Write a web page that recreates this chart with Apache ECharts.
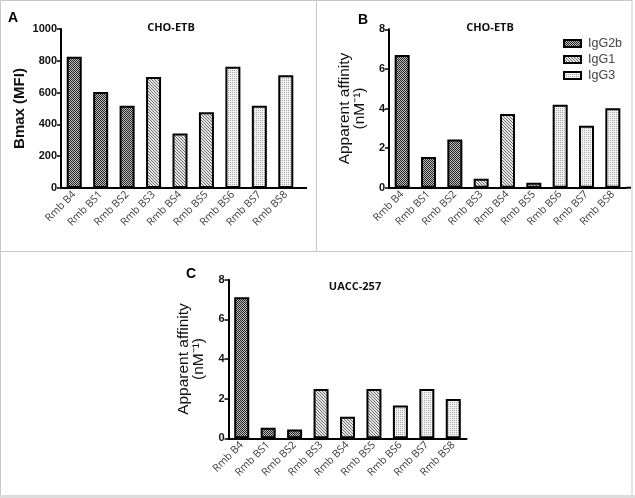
<!DOCTYPE html>
<html>
<head>
<meta charset="utf-8">
<script src="https://cdn.jsdelivr.net/npm/echarts@6/dist/echarts.min.js"></script>
<style>
html,body{margin:0;padding:0;background:#fff;}
#chart{width:635px;height:498px;}
</style>
</head>
<body>
<div id="chart"></div>
<script>
// ---- data ----
const categories = ['Rmb B4','Rmb BS1','Rmb BS2','Rmb BS3','Rmb BS4','Rmb BS5','Rmb BS6','Rmb BS7','Rmb BS8'];
const groupOf = ['IgG2b','IgG2b','IgG2b','IgG1','IgG1','IgG1','IgG3','IgG3','IgG3'];
const groups = ['IgG2b','IgG1','IgG3'];
const bmaxA = [826, 604, 518, 698, 342, 476, 763, 518, 709];
const affinityB = [6.70, 1.55, 2.44, 0.45, 3.72, 0.25, 4.19, 3.13, 4.01];
const affinityC = [7.12, 0.53, 0.45, 2.49, 1.09, 2.49, 1.66, 2.49, 1.98];
const yTicksA = [0, 200, 400, 600, 800, 1000];
const yTicksB = [0, 2, 4, 6, 8];
const yTicksC = [0, 2, 4, 6, 8];
const panelLetters = ['A', 'B', 'C'];
const panelTitles = ['CHO-ETB', 'CHO-ETB', 'UACC-257'];
const yNames = ['Bmax (MFI)', 'Apparent affinity\n(nM\u207B\u00B9)', 'Apparent affinity\n(nM\u207B\u00B9)'];

// ---- patterns ----
function makePattern(kind){
  const c = document.createElement('canvas');
  if(kind==='IgG2b'){
    c.width=2;c.height=2;const x=c.getContext('2d');
    x.fillStyle='#bdbdbd';x.fillRect(0,0,2,2);
    x.fillStyle='#262626';x.fillRect(0,0,1,1);x.fillRect(1,1,1,1);
  } else if(kind==='IgG1'){
    c.width=3;c.height=3;const x=c.getContext('2d');
    x.fillStyle='#e6e6e6';x.fillRect(0,0,3,3);
    x.fillStyle='#6e6e6e';
    for(let i=0;i<3;i++){x.fillRect(i,i,1,1);}
  } else {
    c.width=2;c.height=2;const x=c.getContext('2d');
    x.fillStyle='#f2f2f2';x.fillRect(0,0,2,2);
    x.fillStyle='#a8a8a8';x.fillRect(0,0,1,1);
  }
  return {image:c, repeat:'repeat'};
}
const patterns = {};
groups.forEach(g => patterns[g] = makePattern(g));

// ---- layout ----
const grids = [
  {left:61, top:29, width:238, height:159},
  {left:389, top:29.3, width:237, height:158.4},
  {left:228.5, top:279.7, width:238, height:158.6}
];
const panelValues = [bmaxA, affinityB, affinityC];
const panelTicks = [yTicksA, yTicksB, yTicksC];
const nameGaps = [34, 22, 22];
const nameStyles = [
  {fontSize:15, fontWeight:'bold', fontFamily:'Liberation Sans, Arial', color:'#111'},
  {fontSize:15.5, fontFamily:'Liberation Sans, Arial', color:'#111', lineHeight:15},
  {fontSize:15.5, fontFamily:'Liberation Sans, Arial', color:'#111', lineHeight:15}
];
const titlePos = [{x:166,y:17},{x:485,y:17},{x:350,y:276}];
const letterPos = [{x:3,y:6},{x:353,y:8},{x:181,y:262}];

const xAxes = [], yAxes = [], series = [], titles = [];
for(let p=0;p<3;p++){
  xAxes.push({
    type:'category', gridIndex:p, data:categories,
    axisLine:{lineStyle:{color:'#000', width:2}},
    axisTick:{alignWithLabel:true, length:4, lineStyle:{color:'#000', width:1.5}},
    axisLabel:{rotate:45, margin:5, fontSize:10.5, color:'#3a3a3a', fontFamily:'Open Sans, sans-serif', interval:0}
  });
  const t = panelTicks[p];
  yAxes.push({
    type:'value', gridIndex:p, min:t[0], max:t[t.length-1], interval:t[1]-t[0],
    name:yNames[p], nameLocation:'middle', nameGap:nameGaps[p], nameTextStyle:nameStyles[p],
    axisLine:{show:true, lineStyle:{color:'#000', width:2}},
    axisTick:{show:true, length:4, lineStyle:{color:'#000', width:1.5}},
    axisLabel:{margin:4, fontSize:11, fontWeight:'bold', color:'#111', fontFamily:'Liberation Sans, Arial',
      formatter: v => String(v)},
    splitLine:{show:false}
  });
  groups.forEach(g => {
    series.push({
      type:'bar', name:g, xAxisIndex:p, yAxisIndex:p, barWidth:15, barGap:'-100%',
      data: panelValues[p].map((v,i) => groupOf[i]===g ? v : '-'),
      itemStyle:{color:patterns[g], borderColor:'#000', borderWidth:2},
      emphasis:{disabled:true}
    });
  });
  titles.push({
    text:panelTitles[p], left:titlePos[p].x, top:titlePos[p].y, textAlign:'center',
    textStyle:{fontSize:11, fontWeight:'bold', color:'#111', fontFamily:'Open Sans, sans-serif'}
  });
  titles.push({
    text:panelLetters[p], left:letterPos[p].x, top:letterPos[p].y,
    textStyle:{fontSize:14, fontWeight:'bold', color:'#000', fontFamily:'Liberation Sans, Arial'}
  });
}

const chart = echarts.init(document.getElementById('chart'), null, {renderer:'canvas'});
chart.setOption({
  animation:false,
  backgroundColor:'#fff',
  title:titles,
  grid:grids,
  xAxis:xAxes,
  yAxis:yAxes,
  series:series,
  legend:{
    data:groups, orient:'vertical', left:563, top:37, padding:0, itemWidth:17, itemHeight:7, itemGap:3,
    icon:'rect', selectedMode:false,
    textStyle:{fontSize:12.5, color:'#444', fontFamily:'Liberation Sans, Arial', padding:[0,0,0,2]}
  },
  graphic:[
    // panel frame lines
    {type:'line', shape:{x1:0.5,y1:0.5,x2:632,y2:0.5}, style:{stroke:'#c8c8c8', lineWidth:1}},
    {type:'line', shape:{x1:0.5,y1:0.5,x2:0.5,y2:495}, style:{stroke:'#c8c8c8', lineWidth:1}},
    {type:'line', shape:{x1:632,y1:0.5,x2:632,y2:495}, style:{stroke:'#c8c8c8', lineWidth:1}},
    {type:'line', shape:{x1:0.5,y1:251.5,x2:632,y2:251.5}, style:{stroke:'#c8c8c8', lineWidth:1}},
    {type:'line', shape:{x1:316.5,y1:0.5,x2:316.5,y2:251.5}, style:{stroke:'#c8c8c8', lineWidth:1}},
    {type:'rect', shape:{x:0,y:495,width:635,height:3}, style:{fill:'#dcdcdc'}},
    // x axis line extensions beyond last category band
    {type:'line', shape:{x1:299,y1:188,x2:307,y2:188}, style:{stroke:'#000', lineWidth:2}},
    {type:'line', shape:{x1:626,y1:187.7,x2:631,y2:187.7}, style:{stroke:'#000', lineWidth:2}}
  ]
});
</script>
</body>
</html>
